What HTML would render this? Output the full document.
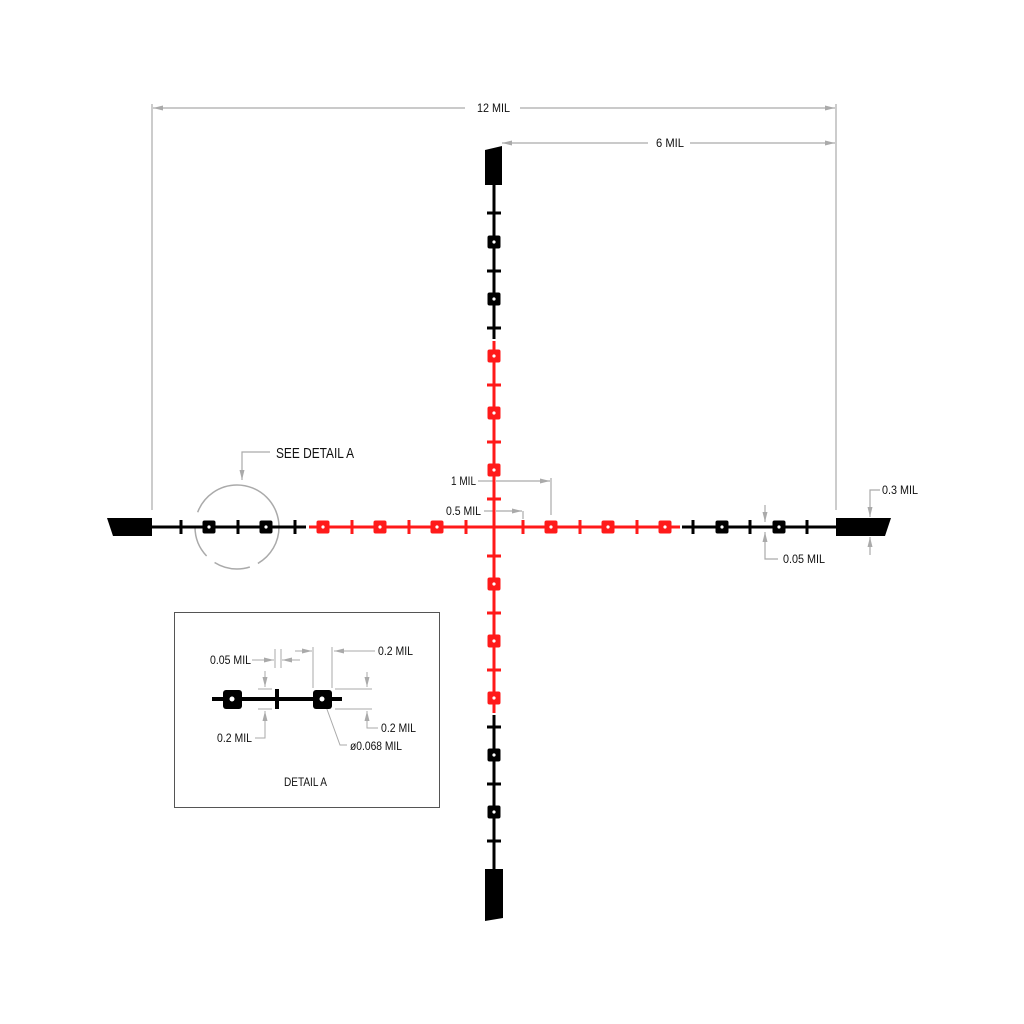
<!DOCTYPE html>
<html><head><style>
html,body{margin:0;padding:0;background:#fff;}
svg{display:block;}
text{font-family:"Liberation Sans",sans-serif;font-size:12px;fill:#111;}
</style></head><body>
<svg width="1024" height="1024" viewBox="0 0 1024 1024" xmlns="http://www.w3.org/2000/svg">
<defs>
<marker id="ar" viewBox="0 0 10 6" refX="10" refY="3" markerWidth="10" markerHeight="6" orient="auto" markerUnits="userSpaceOnUse">
<path d="M0,0.5 L10,3 L0,5.5 Z" fill="#aaa"/>
</marker>
<g id="sqk"><rect x="-6.5" y="-6.5" width="13" height="13" rx="2" fill="#000"/><circle r="1.6" fill="#fff"/></g>
<g id="sqr"><rect x="-6.5" y="-6.5" width="13" height="13" rx="2" fill="#ff1a1a"/><circle r="1.6" fill="#fff"/></g>
</defs>

<g stroke="#aaa" stroke-width="1.2" fill="none">
<line x1="152" y1="104" x2="152" y2="510"/>
<line x1="836" y1="104" x2="836" y2="510"/>
<line x1="465" y1="108" x2="153" y2="108" marker-end="url(#ar)"/>
<line x1="520" y1="108" x2="835" y2="108" marker-end="url(#ar)"/>
<line x1="648" y1="143" x2="502" y2="143" marker-end="url(#ar)"/>
<line x1="690" y1="143" x2="835" y2="143" marker-end="url(#ar)"/>
<line x1="478" y1="481" x2="494" y2="481"/>
<line x1="496" y1="481" x2="550" y2="481" marker-end="url(#ar)"/>
<line x1="551" y1="478" x2="551" y2="515"/>
<line x1="484" y1="511" x2="494" y2="511"/>
<line x1="496" y1="511" x2="522" y2="511" marker-end="url(#ar)"/>
<line x1="523" y1="511" x2="523" y2="519"/>
<polyline points="880,490 870,490 870,517" marker-end="url(#ar)"/>
<line x1="870" y1="555" x2="870" y2="537" marker-end="url(#ar)"/>
<line x1="765" y1="505" x2="765" y2="522" marker-end="url(#ar)"/>
<polyline points="778,559 765,559 765,532" marker-end="url(#ar)"/>
<polyline points="270,452 242,452 242,480" marker-end="url(#ar)"/>
<circle cx="237" cy="527" r="42" stroke="#aaa" stroke-width="1.5" stroke-dasharray="44 8.8 36.7 10.3 32.3 14.7 117.3 0"/>
</g>
<text x="477" y="112" textLength="33" lengthAdjust="spacingAndGlyphs">12 MIL</text>
<text x="656" y="147" textLength="28" lengthAdjust="spacingAndGlyphs">6 MIL</text>
<text x="451" y="485" textLength="25" lengthAdjust="spacingAndGlyphs">1 MIL</text>
<text x="446" y="515" textLength="35" lengthAdjust="spacingAndGlyphs">0.5 MIL</text>
<text x="882" y="494" textLength="36" lengthAdjust="spacingAndGlyphs">0.3 MIL</text>
<text x="783" y="563" textLength="42" lengthAdjust="spacingAndGlyphs">0.05 MIL</text>
<text x="276" y="458" style="font-size:15px" textLength="78" lengthAdjust="spacingAndGlyphs">SEE DETAIL A</text>

<g stroke="#000" stroke-width="3">
<line x1="152" y1="527" x2="306" y2="527"/>
<line x1="682" y1="527" x2="836" y2="527"/>
<line x1="181" y1="520" x2="181" y2="534"/><line x1="238" y1="520" x2="238" y2="534"/><line x1="295" y1="520" x2="295" y2="534"/>
<line x1="693" y1="520" x2="693" y2="534"/><line x1="750" y1="520" x2="750" y2="534"/><line x1="807" y1="520" x2="807" y2="534"/>
<line x1="494" y1="185" x2="494" y2="339"/>
<line x1="494" y1="715" x2="494" y2="870"/>
<line x1="487" y1="213" x2="501" y2="213"/><line x1="487" y1="271" x2="501" y2="271"/><line x1="487" y1="328" x2="501" y2="328"/>
<line x1="487" y1="727" x2="501" y2="727"/><line x1="487" y1="784" x2="501" y2="784"/><line x1="487" y1="841" x2="501" y2="841"/>
</g>
<use href="#sqk" x="209" y="527"/><use href="#sqk" x="266" y="527"/>
<use href="#sqk" x="722" y="527"/><use href="#sqk" x="779" y="527"/>
<use href="#sqk" x="494" y="242"/><use href="#sqk" x="494" y="299"/>
<use href="#sqk" x="494" y="755"/><use href="#sqk" x="494" y="812"/>

<polygon points="107,518 152,518 152,536 113,536" fill="#000"/>
<polygon points="836,518 891,518 885,536 836,536" fill="#000"/>
<polygon points="485,150 502,146 502,185 485,185" fill="#000"/>
<polygon points="485,869 503,869 503,918 485,921" fill="#000"/>

<g stroke="#ff1a1a" stroke-width="3">
<line x1="309" y1="527" x2="680" y2="527"/>
<line x1="494" y1="341" x2="494" y2="713"/>
<line x1="352" y1="520" x2="352" y2="534"/><line x1="409" y1="520" x2="409" y2="534"/><line x1="466" y1="520" x2="466" y2="534"/>
<line x1="523" y1="520" x2="523" y2="534"/><line x1="580" y1="520" x2="580" y2="534"/><line x1="637" y1="520" x2="637" y2="534"/>
<line x1="487" y1="385" x2="501" y2="385"/><line x1="487" y1="442" x2="501" y2="442"/><line x1="487" y1="499" x2="501" y2="499"/>
<line x1="487" y1="556" x2="501" y2="556"/><line x1="487" y1="613" x2="501" y2="613"/><line x1="487" y1="670" x2="501" y2="670"/>
</g>
<use href="#sqr" x="323" y="527"/><use href="#sqr" x="380" y="527"/><use href="#sqr" x="437" y="527"/>
<use href="#sqr" x="551" y="527"/><use href="#sqr" x="608" y="527"/><use href="#sqr" x="665" y="527"/>
<use href="#sqr" x="494" y="356"/><use href="#sqr" x="494" y="413"/><use href="#sqr" x="494" y="470"/>
<use href="#sqr" x="494" y="584"/><use href="#sqr" x="494" y="641"/><use href="#sqr" x="494" y="698"/>

<rect x="174.5" y="612.5" width="265" height="195" fill="none" stroke="#555" stroke-width="1"/>
<g stroke="#aaa" stroke-width="1" fill="none">
<line x1="252" y1="660" x2="274" y2="660" marker-end="url(#ar)"/>
<line x1="300" y1="660" x2="282" y2="660" marker-end="url(#ar)"/>
<line x1="275" y1="649" x2="275" y2="668"/><line x1="281" y1="649" x2="281" y2="668"/>
<line x1="295" y1="651" x2="312" y2="651" marker-end="url(#ar)"/>
<line x1="375" y1="651" x2="334" y2="651" marker-end="url(#ar)"/>
<line x1="313" y1="647" x2="313" y2="688"/><line x1="332" y1="647" x2="332" y2="688"/>
<line x1="265" y1="671" x2="265" y2="687" marker-end="url(#ar)"/>
<line x1="258" y1="689" x2="272" y2="689"/><line x1="258" y1="709" x2="272" y2="709"/>
<polyline points="255,738 265,738 265,711" marker-end="url(#ar)"/>
<line x1="367" y1="672" x2="367" y2="687" marker-end="url(#ar)"/>
<line x1="335" y1="689" x2="372" y2="689"/><line x1="335" y1="709" x2="372" y2="709"/>
<polyline points="378,728 367,728 367,711" marker-end="url(#ar)"/>
<polyline points="347,745 340,745 324,701"/>
</g>
<g stroke="#000" stroke-width="4">
<line x1="212" y1="699" x2="342" y2="699"/>
<line x1="277" y1="689" x2="277" y2="709"/>
</g>
<rect x="223" y="690" width="19" height="19" rx="3" fill="#000"/><circle cx="232" cy="699" r="2.5" fill="#fff"/>
<rect x="313" y="690" width="19" height="19" rx="3" fill="#000"/><circle cx="322" cy="699" r="2.5" fill="#fff"/>
<text x="210" y="664" textLength="41" lengthAdjust="spacingAndGlyphs">0.05 MIL</text>
<text x="378" y="655" textLength="35" lengthAdjust="spacingAndGlyphs">0.2 MIL</text>
<text x="217" y="742" textLength="35" lengthAdjust="spacingAndGlyphs">0.2 MIL</text>
<text x="381" y="732" textLength="35" lengthAdjust="spacingAndGlyphs">0.2 MIL</text>
<text x="350" y="750" textLength="52" lengthAdjust="spacingAndGlyphs">ø0.068 MIL</text>
<text x="284" y="786" textLength="43" lengthAdjust="spacingAndGlyphs">DETAIL  A</text>
</svg>
</body></html>
